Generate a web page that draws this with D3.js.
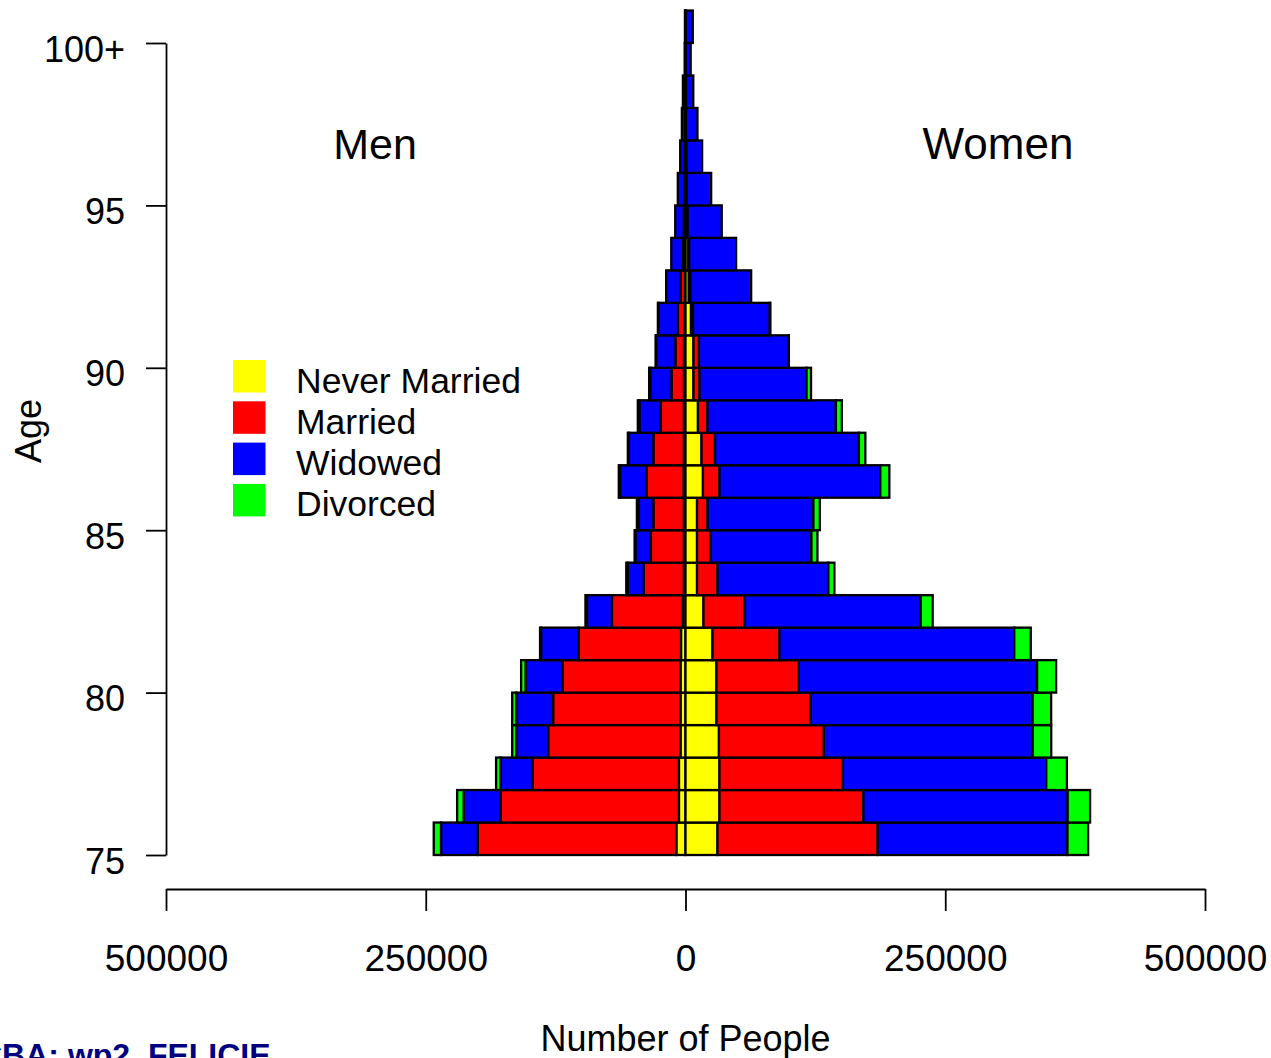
<!DOCTYPE html>
<html>
<head>
<meta charset="utf-8">
<script src="https://cdn.jsdelivr.net/npm/d3@7"></script>
<style>
  body { margin: 0; background: #fff; }
  text { font-family: "Liberation Sans", Arial, sans-serif; }
</style>
</head>
<body>
<div id="chart"></div>
<script>
// ages 75 .. 100+ (one bar per year of age)
const ages = [75, 76, 77, 78, 79, 80, 81, 82, 83, 84, 85, 86, 87, 88, 89, 90, 91, 92, 93, 94, 95, 96, 97, 98, 99, 100]

const menNever    = [8800, 6300, 6300, 4800, 4800, 4800, 4300, 2500, 1600, 1600, 1600, 1900, 1600, 1600, 1500, 1500, 1000, 500, 300, 200, 150, 100, 100, 50, 0, 0]
const menMarried  = [191200, 171600, 140900, 127400, 122600, 113500, 98600, 68300, 38500, 31700, 29300, 35600, 29300, 22100, 12000, 8200, 6300, 4000, 2000, 1500, 1000, 600, 400, 250, 100, 50]
const menWidowed  = [35300, 35600, 30800, 30800, 35600, 35600, 36100, 24000, 15400, 14900, 14400, 25500, 23600, 20700, 20500, 18500, 18700, 14100, 11400, 8200, 6250, 4400, 3000, 2200, 700, 500]
const menDivorced = [7000, 6300, 4300, 3800, 3800, 4300, 1000, 1500, 1500, 800, 1500, 1200, 1000, 1500, 1000, 600, 600, 0, 0, 0, 0, 0, 0, 0, 0, 0]

const womenNever    = [30800, 32700, 32700, 32200, 29800, 29800, 26000, 17300, 11100, 11100, 11100, 16800, 15400, 12000, 7700, 7700, 5300, 3200, 2800, 1500, 1000, 700, 400, 300, 200, 300]
const womenMarried  = [154100, 138500, 118800, 101000, 90400, 79300, 64400, 39400, 19700, 13000, 10100, 15900, 13000, 9100, 5800, 5300, 2000, 1500, 800, 500, 300, 200, 100, 100, 0, 0]
const womenWidowed  = [182700, 196600, 195700, 201000, 213900, 229300, 226000, 169700, 106700, 97100, 101900, 154800, 138500, 123600, 103000, 86000, 73800, 58500, 45100, 32900, 23400, 15100, 11000, 7100, 4800, 6700]
const womenDivorced = [19900, 21600, 19900, 17800, 17800, 18300, 15900, 11500, 5800, 5800, 6200, 8700, 6200, 5800, 4300, 500, 600, 0, 0, 0, 0, 0, 0, 0, 0, 0]

const statusNames = ["Never Married", "Married", "Widowed", "Divorced"]
const statusColors = ["#ffff00", "#ff0000", "#0000ff", "#00ff00"]

const yTicks = [75, 80, 85, 90, 95, 100]
const xTicks = [-500000, -250000, 0, 250000, 500000]

const width = 1271, height = 1058

const svg = d3.select("#chart")
    .append("svg")
    .attr("width", width)
    .attr("height", height)

/* scales */
const x = d3.scaleLinear().domain([-500000, 500000]).range([166, 1205])
const y = d3.scaleLinear().domain([75, 100]).range([855, 43])

/* build stacked segments, outward from zero */
const series = [
    { men: menNever, women: womenNever },
    { men: menMarried, women: womenMarried },
    { men: menWidowed, women: womenWidowed },
    { men: menDivorced, women: womenDivorced }
]
const segments = []
ages.forEach((age, i) => {
    let m0 = 0, w0 = 0
    series.forEach((s, k) => {
        if (s.men[i] > 0) segments.push({ age, color: statusColors[k], a: -m0, b: -(m0 + s.men[i]) })
        m0 += s.men[i]
        if (s.women[i] > 0) segments.push({ age, color: statusColors[k], a: w0, b: w0 + s.women[i] })
        w0 += s.women[i]
    })
})

svg.append("g")
    .selectAll("rect")
    .data(segments)
    .enter()
    .append("rect")
    .attr("x", d => x(Math.min(d.a, d.b)))
    .attr("width", d => Math.abs(x(d.b) - x(d.a)))
    .attr("y", d => y(d.age + 1))
    .attr("height", d => y(d.age) - y(d.age + 1))
    .attr("fill", d => d.color)
    .attr("stroke", "#000")
    .attr("stroke-width", 2.3)

/* Y-axis */
const yAxis = svg.append("g")
    .attr("transform", `translate(${x(-500000)}, 0)`)
    .call(d3.axisLeft(y)
        .tickValues(yTicks)
        .tickFormat(d => d === 100 ? "100+" : d)
        .tickSize(20)
        .tickSizeOuter(0)
        .tickPadding(21))
    .attr("font-size", 36)
    .attr("font-family", "Liberation Sans, Arial, sans-serif")
yAxis.selectAll("text").attr("dy", "0.5em").attr("fill", "#000")
yAxis.selectAll("line, path").attr("stroke", "#000").attr("stroke-width", 1.8)

/* X-axis */
const xAxis = svg.append("g")
    .attr("transform", "translate(0, 889)")
    .call(d3.axisBottom(x)
        .tickValues(xTicks)
        .tickFormat(d => Math.abs(d))
        .tickSize(22)
        .tickSizeOuter(0)
        .tickPadding(34))
    .attr("font-size", 37)
    .attr("font-family", "Liberation Sans, Arial, sans-serif")
xAxis.selectAll("text").attr("fill", "#000")
xAxis.selectAll("line, path").attr("stroke", "#000").attr("stroke-width", 1.8)

/* axis titles */
svg.append("text")
    .attr("text-anchor", "middle")
    .attr("x", x(0))
    .attr("y", 1051)
    .attr("font-size", 36)
    .text("Number of People")

svg.append("text")
    .attr("text-anchor", "middle")
    .attr("transform", "translate(41, 431) rotate(-90)")
    .attr("font-size", 36)
    .text("Age")

/* side labels */
svg.append("text")
    .attr("text-anchor", "middle")
    .attr("x", 375)
    .attr("y", 159)
    .attr("font-size", 43)
    .text("Men")

svg.append("text")
    .attr("text-anchor", "middle")
    .attr("x", 998)
    .attr("y", 159)
    .attr("font-size", 44)
    .text("Women")

/* legend */
const legend = svg.append("g")
    .selectAll("g")
    .data(statusNames)
    .enter()
    .append("g")
    .attr("transform", (d, i) => `translate(233, ${360 + i * 41.3})`)

legend.append("rect")
    .attr("width", 32.5)
    .attr("height", 32.5)
    .attr("fill", (d, i) => statusColors[i])

legend.append("text")
    .attr("x", 63)
    .attr("y", 32.5)
    .attr("font-size", 35.5)
    .text(d => d)

/* footer tag, clipped at page edge as in the original */
svg.append("text")
    .attr("x", -21)
    .attr("y", 1066)
    .attr("font-size", 32)
    .attr("font-weight", "bold")
    .attr("fill", "#00007f")
    .text("CBA: wp2_FELICIE")
</script>
</body>
</html>
